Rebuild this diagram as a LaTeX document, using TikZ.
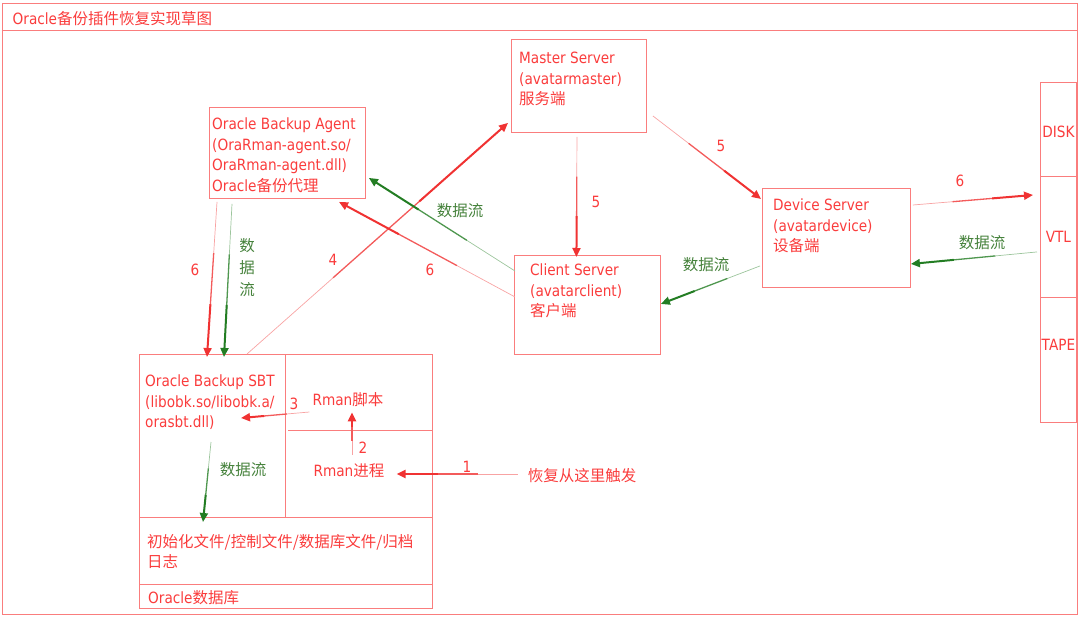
\documentclass[tikz,border=0pt]{standalone}
\usepackage{fontspec}
\setmainfont{DejaVu Sans}[FakeStretch=0.88]
\newfontfamily\cjk{Noto Sans CJK SC}[Scale=1.0]
\newcommand{\zh}[1]{{\cjk #1}}
\usetikzlibrary{arrows.meta,positioning,calc}
\definecolor{dLine}{RGB}{250,125,125}
\definecolor{dText}{RGB}{250,60,60}
\definecolor{dRed}{RGB}{240,50,50}
\definecolor{dGreen}{RGB}{35,125,35}
\definecolor{dGreenText}{RGB}{70,130,60}

\begin{document}
\begin{tikzpicture}[x=1pt,y=-1pt,
	box/.style={
		draw=dLine, line width=0.9pt, inner sep=0pt, anchor=north west,
		text=dText, font=\fontsize{15.5}{20.5}\selectfont
	},
	txt/.style={
		anchor=north west, inner sep=0pt, align=left, text=dText,
		font=\fontsize{15.5}{20.5}\selectfont
	},
	lbl/.style={inner sep=1pt, text=dText, font=\fontsize{15.5}{20.5}\selectfont},
	glbl/.style={inner sep=1pt, align=center, text=dGreenText, font=\fontsize{15.5}{22}\selectfont}
	]
	\useasboundingbox (0,0) rectangle (1081,618);

	% frame and title
	\node[box, minimum width=1075.5pt, minimum height=611pt] (frame) at (1.5,3) {};
	\draw[dLine, line width=0.9pt] ($(frame.north west)+(0,27)$) -- ($(frame.north east)+(0,27)$);
	\node[txt] (title) at ($(frame.north west)+(11,8)$) {Oracle\zh{备份插件恢复实现草图}};

	% servers
	\node[box, minimum width=156pt, minimum height=91pt] (agent) at (209,107) {};
	\node[box, minimum width=135pt, minimum height=93pt] (master) at (511,39) {};
	\node[box, minimum width=146pt, minimum height=99pt] (client) at (514,255) {};
	\node[box, minimum width=148pt, minimum height=99pt] (device) at (762,188) {};
	\node[txt] (agenttxt) at ($(agent.north west)+(3,11)$)
		{Oracle Backup Agent\\(OraRman-agent.so/\\OraRman-agent.dll)\\Oracle\zh{备份代理}};
	\node[txt] (mastertxt) at ($(master.north west)+(8,13)$)
		{Master Server\\(avatarmaster)\\\zh{服务端}};
	\node[txt] (clienttxt) at ($(client.north west)+(16,9)$)
		{Client Server\\(avatarclient)\\\zh{客户端}};
	\node[txt] (devicetxt) at ($(device.north west)+(11,11)$)
		{Device Server\\(avatardevice)\\\zh{设备端}};

	% storage
	\node[box, minimum width=36pt, minimum height=94pt] (disk) at (1040,82) {};
	\node[box, minimum width=36pt, minimum height=121pt] (vtl) at (1040,176) {};
	\node[box, minimum width=36pt, minimum height=125pt] (tape) at (1040,297) {};
	\node[lbl] (disktxt) at ($(disk.north)+(0,50)$) {DISK};
	\node[lbl] (vtltxt) at ($(vtl.north)+(0,61)$) {VTL};
	\node[lbl] (tapetxt) at ($(tape.north)+(0,48)$) {TAPE};

	% database host
	\node[box, minimum width=293pt, minimum height=254pt] (sbt) at (139,354) {};
	\draw[dLine, line width=0.9pt] ($(sbt.north west)+(146,0)$) -- ($(sbt.north west)+(146,163)$);
	\draw[dLine, line width=0.9pt] ($(sbt.north west)+(0,163)$) -- ($(sbt.north east)+(0,163)$);
	\draw[dLine, line width=0.9pt] ($(sbt.north west)+(0,230)$) -- ($(sbt.north east)+(0,230)$);
	\draw[dLine, line width=0.9pt] ($(sbt.north west)+(149,76)$) -- ($(sbt.north east)+(0,76)$);
	\node[txt] (sbttxt) at ($(sbt.north west)+(6,21)$)
		{Oracle Backup SBT\\(libobk.so/libobk.a/\\orasbt.dll)};
	\node[txt] (files) at ($(sbt.north west)+(8,180)$)
		{\zh{初始化文件/控制文件/数据库文件/归档}\\\zh{日志}};
	\node[txt] (db) at ($(sbt.north west)+(9,236)$) {Oracle\zh{数据库}};
	\node[lbl] (rscript) at (348,400) {Rman\zh{脚本}};
	\node[lbl] (rproc) at (349,471) {Rman\zh{进程}};
	\node[lbl] (trig) at (582,476) {\zh{恢复从这里触发}};

	% connector ends
	\coordinate (trigL) at ($(trig.west)+(-9,-2)$);
	\coordinate (procR) at ($(rproc.east)+(11,3)$);
	\coordinate (procT) at ($(rproc.north)+(3,-8)$);
	\coordinate (scriptB) at ($(rscript.south)+(4,4)$);
	\coordinate (scriptL) at ($(rscript.west)+(-2,12)$);
	\coordinate (sbtTxt) at ($(sbt.north west)+(102,64)$);
	\coordinate (sbtTop) at ($(sbt.north west)+(108,0)$);
	\coordinate (masterSW) at ($(master.south west)+(-3,-10)$);
	\coordinate (masterS) at ($(master.south)+(-2,4)$);
	\coordinate (clientN) at ($(client.north)+(-11,2)$);
	\coordinate (masterE) at ($(master.east)+(6,30)$);
	\coordinate (deviceW) at ($(device.west)+(-1,-39)$);
	\coordinate (agentS1) at ($(agent.south west)+(8,3)$);
	\coordinate (sbtTop1) at ($(sbt.north west)+(68,3)$);
	\coordinate (clientW1) at ($(client.west)+(1,-8)$);
	\coordinate (agentS2) at ($(agent.south west)+(130,3)$);
	\coordinate (deviceE) at ($(device.north east)+(2,17)$);
	\coordinate (vtlW1) at ($(vtl.north west)+(-7,19)$);
	\coordinate (agentS3) at ($(agent.south west)+(23,5)$);
	\coordinate (sbtTop2) at ($(sbt.north west)+(85,3)$);
	\coordinate (clientW2) at ($(client.north west)+(1,16)$);
	\coordinate (agentE) at ($(agent.east)+(3,25)$);
	\coordinate (deviceW2) at ($(device.west)+(-2,28)$);
	\coordinate (clientE) at ($(client.east)+(0,-1)$);
	\coordinate (vtlW2) at ($(vtl.west)+(-3,15)$);
	\coordinate (deviceE2) at ($(device.east)+(0,26)$);
	\coordinate (sbtIn) at ($(sbt.north west)+(72,88)$);
	\coordinate (sbtFile) at ($(sbt.north west)+(64,168)$);

	% tapered arrows
	\foreach \s/\e/\c in {trigL/procR/dRed, procT/scriptB/dRed, scriptL/sbtTxt/dRed,
		sbtTop/masterSW/dRed, masterS/clientN/dRed, masterE/deviceW/dRed,
		agentS1/sbtTop1/dRed, clientW1/agentS2/dRed, deviceE/vtlW1/dRed,
		agentS3/sbtTop2/dGreen, clientW2/agentE/dGreen, deviceW2/clientE/dGreen,
		vtlW2/deviceE2/dGreen, sbtIn/sbtFile/dGreen} {
		\draw[\c!45, line width=0.7pt] (\s) -- ($(\s)!.35!(\e)$);
		\draw[\c!80, line width=1.3pt] ($(\s)!.33!(\e)$) -- ($(\s)!.68!(\e)$);
		\draw[\c, line width=2pt, -{Triangle[length=9pt,width=8pt]}] ($(\s)!.66!(\e)$) -- (\e);
	}

	% step labels
	\foreach \p/\t in {{(467,467)}/1, {(363,448)}/2, {(294,404)}/3, {(333,260)}/4,
		{(596,202)}/5, {(721,146)}/5, {(195,270)}/6, {(430,270)}/6, {(960,181)}/6}
	\node[lbl] at \p {\t};
	\foreach \p in {(460,211), (706,265), (982,243), (243,470)}
	\node[glbl] at \p {\zh{数据流}};
	\node[glbl] (flowv) at (247,268) {\zh{数}\\\zh{据}\\\zh{流}};
\end{tikzpicture}
\end{document}
